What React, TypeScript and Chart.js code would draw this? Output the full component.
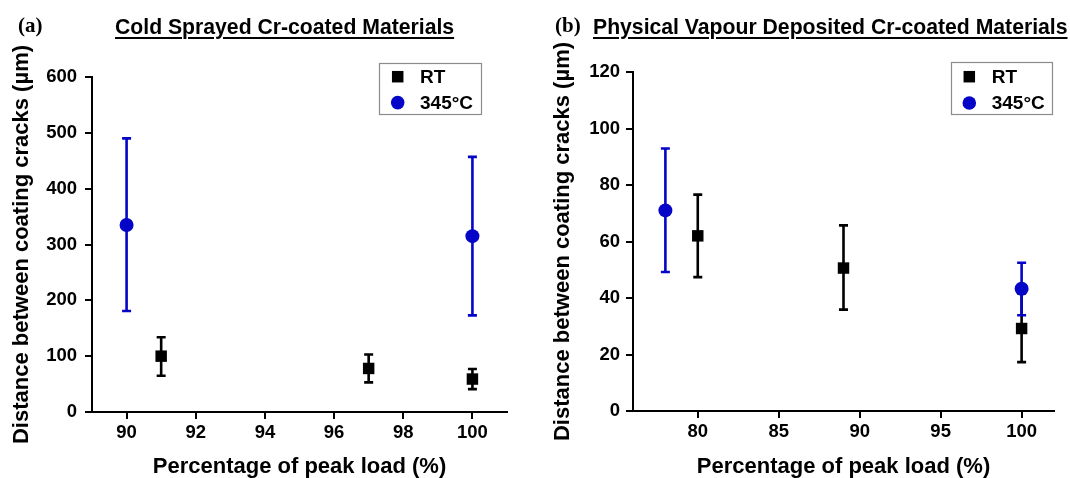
import React, { useEffect, useRef } from 'react';
import { Chart, registerables } from 'chart.js';

Chart.register(...registerables);

const FONT = "'Liberation Sans', Arial, Helvetica, sans-serif";
const SERIF = "'Liberation Serif', 'Times New Roman', serif";
const BLACK = '#000000';
const BLUE = '#0505c8';

const seriesNames = ['RT', '345°C'];
const xAxisTitle = 'Percentage of peak load (%)';
const yAxisTitle = 'Distance between coating cracks (µm)';

// Panel (a): Cold Sprayed
const aLetter = '(a)';
const aTitle = 'Cold Sprayed Cr-coated Materials';
const aXTicks = [90, 92, 94, 96, 98, 100];
const aYTicks = [0, 100, 200, 300, 400, 500, 600];
const aRtLoad = [91, 97, 100];
const aRtMean = [100, 78, 59];
const aRtLow = [65, 53, 41];
const aRtHigh = [134, 103, 77];
const aHotLoad = [90, 100];
const aHotMean = [335, 315];
const aHotLow = [181, 173];
const aHotHigh = [490, 457];

// Panel (b): Physical Vapour Deposited
const bLetter = '(b)';
const bTitle = 'Physical Vapour Deposited Cr-coated Materials';
const bXTicks = [80, 85, 90, 95, 100];
const bYTicks = [0, 20, 40, 60, 80, 100, 120];
const bRtLoad = [80, 89, 100];
const bRtMean = [62, 50.6, 29.2];
const bRtLow = [47.4, 35.9, 17.3];
const bRtHigh = [76.6, 65.7, 41.6];
const bHotLoad = [78, 100];
const bHotMean = [71, 43.3];
const bHotLow = [49.2, 33.9];
const bHotHigh = [92.9, 52.5];

const points = (xs: number[], ys: number[], lo: number[], hi: number[]) =>
  xs.map((x, i) => ({ x, y: ys[i], yMin: lo[i], yMax: hi[i] }));

const errorBarPlugin = {
  id: 'errorBars',
  beforeDatasetDraw(chart: any, args: any) {
    const ds = chart.data.datasets[args.index];
    const xs = chart.scales.x;
    const ys = chart.scales.y;
    const ctx = chart.ctx;
    ctx.save();
    ctx.strokeStyle = ds.backgroundColor;
    ctx.lineWidth = 2.6;
    const cap = 4.5;
    ds.data.forEach((p: any) => {
      const px = xs.getPixelForValue(p.x);
      const top = ys.getPixelForValue(p.yMax);
      const bot = ys.getPixelForValue(p.yMin);
      ctx.beginPath();
      ctx.moveTo(px, top);
      ctx.lineTo(px, bot);
      ctx.moveTo(px - cap, top);
      ctx.lineTo(px + cap, top);
      ctx.moveTo(px - cap, bot);
      ctx.lineTo(px + cap, bot);
      ctx.stroke();
    });
    ctx.restore();
  },
};

const boxLegendPlugin = {
  id: 'boxLegend',
  afterDraw(chart: any, _args: any, opts: any) {
    const ctx = chart.ctx;
    const { x, y, w, h, markerX, textX, rows } = opts;
    ctx.save();
    ctx.fillStyle = '#ffffff';
    ctx.fillRect(x, y, w, h);
    ctx.strokeStyle = '#8c8c8c';
    ctx.lineWidth = 1.2;
    ctx.strokeRect(x + 0.5, y + 0.5, w, h);
    chart.data.datasets.forEach((ds: any, i: number) => {
      const cy = rows[i];
      ctx.fillStyle = ds.backgroundColor;
      if (ds.pointStyle === 'rect') {
        const s = 11.5;
        ctx.fillRect(markerX - s / 2, cy - s / 2, s, s);
      } else {
        ctx.beginPath();
        ctx.arc(markerX, cy, 6.8, 0, Math.PI * 2);
        ctx.fill();
      }
      ctx.fillStyle = BLACK;
      ctx.font = `bold 19px ${FONT}`;
      ctx.textBaseline = 'middle';
      ctx.textAlign = 'left';
      ctx.fillText(ds.label, textX, cy + 1);
    });
    ctx.restore();
  },
};

type PanelCfg = {
  xMin: number;
  xMax: number;
  xTicks: number[];
  yMin: number;
  yMax: number;
  yTicks: number[];
  rt: any[];
  hot: any[];
  pad: { left: number; top: number; right: number; bottom: number };
  yWidth: number;
  xHeight: number;
  yTitlePad: number;
  yTickPad: number;
  legend: any;
};

function makeChart(canvas: HTMLCanvasElement, cfg: PanelCfg) {
  const tickFont = { family: FONT, size: 18.5, weight: 'bold' as const };
  const titleFont = { family: FONT, size: 22, weight: 'bold' as const, lineHeight: 1 };
  const grid = {
    display: true,
    drawOnChartArea: false,
    drawTicks: true,
    tickLength: 7,
    color: BLACK,
    lineWidth: 2,
  };
  return new Chart(canvas, {
    type: 'scatter',
    data: {
      datasets: [
        {
          label: seriesNames[0],
          data: cfg.rt,
          backgroundColor: BLACK,
          borderColor: BLACK,
          pointStyle: 'rect',
          pointRadius: 8.1,
          pointBorderWidth: 0,
          order: 1,
        },
        {
          label: seriesNames[1],
          data: cfg.hot,
          backgroundColor: BLUE,
          borderColor: BLUE,
          pointStyle: 'circle',
          pointRadius: 7,
          pointBorderWidth: 0,
          order: 0,
        },
      ] as any,
    },
    options: {
      responsive: false,
      animation: false,
      events: [],
      layout: { padding: cfg.pad, autoPadding: false } as any,
      scales: {
        x: {
          type: 'linear',
          min: cfg.xMin,
          max: cfg.xMax,
          afterBuildTicks: (s: any) => {
            s.ticks = cfg.xTicks.map((v) => ({ value: v }));
          },
          afterFit: (s: any) => {
            s.height = cfg.xHeight;
          },
          grid,
          border: { display: true, color: BLACK, width: 2 },
          ticks: { color: BLACK, font: tickFont, padding: 3, maxRotation: 0, autoSkip: false },
          title: {
            display: true,
            text: xAxisTitle,
            color: BLACK,
            font: titleFont,
            padding: { top: 0, bottom: 0 },
          },
        },
        y: {
          type: 'linear',
          min: cfg.yMin,
          max: cfg.yMax,
          afterBuildTicks: (s: any) => {
            s.ticks = cfg.yTicks.map((v) => ({ value: v }));
          },
          afterFit: (s: any) => {
            s.width = cfg.yWidth;
          },
          grid,
          border: { display: true, color: BLACK, width: 2 },
          ticks: { color: BLACK, font: tickFont, padding: cfg.yTickPad, autoSkip: false },
          title: {
            display: true,
            text: yAxisTitle,
            color: BLACK,
            font: titleFont,
            padding: { top: cfg.yTitlePad, bottom: 0 },
          },
        },
      } as any,
      plugins: {
        legend: { display: false },
        tooltip: { enabled: false },
        boxLegend: cfg.legend,
      } as any,
    },
    plugins: [errorBarPlugin, boxLegendPlugin],
  });
}

const panelA: PanelCfg = {
  xMin: 89,
  xMax: 101,
  xTicks: aXTicks,
  yMin: 0,
  yMax: 600,
  yTicks: aYTicks,
  rt: points(aRtLoad, aRtMean, aRtLow, aRtHigh),
  hot: points(aHotLoad, aHotMean, aHotLow, aHotHigh),
  pad: { left: 0, top: 77, right: 33, bottom: 0 },
  yWidth: 92,
  xHeight: 66,
  yTitlePad: 10.5,
  yTickPad: 8,
  legend: { x: 379, y: 63, w: 102, h: 51, markerX: 397.7, textX: 420, rows: [76.7, 102.6] },
};

const panelB: PanelCfg = {
  xMin: 76,
  xMax: 102,
  xTicks: bXTicks,
  yMin: 0,
  yMax: 120,
  yTicks: bYTicks,
  rt: points(bRtLoad, bRtMean, bRtLow, bRtHigh),
  hot: points(bHotLoad, bHotMean, bHotLow, bHotHigh),
  pad: { left: 0, top: 72, right: 16, bottom: 0 },
  yWidth: 93,
  xHeight: 67,
  yTitlePad: 11.5,
  yTickPad: 6,
  legend: { x: 411, y: 62, w: 101, h: 52, markerX: 429.3, textX: 451.7, rows: [76.7, 103] },
};

const titleStyle: React.CSSProperties = {
  position: 'absolute',
  top: 15.5,
  fontFamily: FONT,
  fontWeight: 'bold',
  fontSize: 21.2,
  lineHeight: 1,
  whiteSpace: 'nowrap',
  textDecoration: 'underline',
  textDecorationThickness: '1.5px',
  textUnderlineOffset: '3px',
  color: BLACK,
};

const letterStyle: React.CSSProperties = {
  position: 'absolute',
  top: 15,
  fontFamily: SERIF,
  fontWeight: 'bold',
  fontSize: 21,
  lineHeight: 1,
  color: BLACK,
};

export default function App() {
  const refA = useRef<HTMLCanvasElement>(null);
  const refB = useRef<HTMLCanvasElement>(null);

  useEffect(() => {
    const ca = makeChart(refA.current!, panelA);
    const cb = makeChart(refB.current!, panelB);
    return () => {
      ca.destroy();
      cb.destroy();
    };
  }, []);

  return (
    <div
      style={{
        position: 'absolute',
        left: 0,
        top: 0,
        width: 1070,
        height: 478,
        background: '#ffffff',
        overflow: 'hidden',
      }}
    >
      <canvas ref={refA} width={540} height={478} style={{ position: 'absolute', left: 0, top: 0 }} />
      <canvas ref={refB} width={530} height={478} style={{ position: 'absolute', left: 540, top: 0 }} />
      <div style={{ ...letterStyle, left: 18 }}>{aLetter}</div>
      <div style={{ ...titleStyle, left: 115 }}>{aTitle}</div>
      <div style={{ ...letterStyle, left: 555 }}>{bLetter}</div>
      <div style={{ ...titleStyle, left: 593 }}>{bTitle}</div>
    </div>
  );
}
